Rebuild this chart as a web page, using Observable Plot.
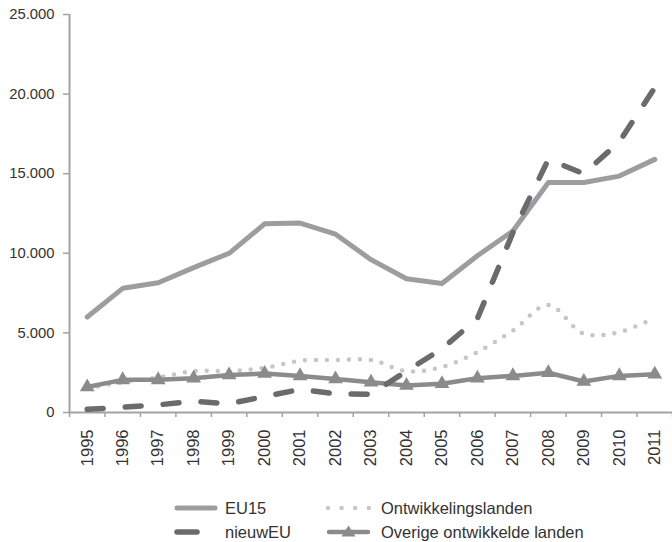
<!DOCTYPE html>
<html>
<head>
<meta charset="utf-8">
<script src="https://cdn.jsdelivr.net/npm/d3@7"></script>
<script src="https://cdn.jsdelivr.net/npm/@observablehq/plot@0.6"></script>
<style>
  html, body { margin: 0; padding: 0; background: #fff; }
  body { width: 672px; height: 542px; position: relative; overflow: hidden; font-family: "Liberation Sans", Arial, sans-serif; }
  #chart { position: absolute; left: 0; top: 0; }
  .leg { position: absolute; font-size: 16.5px; color: #333; line-height: 20px; white-space: nowrap; }
  .sw { position: absolute; }
</style>
</head>
<body>
<div id="chart"></div>
<svg class="sw" style="left:170px;top:498px" width="52" height="20"><line x1="7" y1="10" x2="45" y2="10" stroke="#9d9d9f" stroke-width="5" stroke-linecap="round"/></svg>
<div class="leg" style="left:225px;top:498px">EU15</div>
<svg class="sw" style="left:170px;top:522px" width="52" height="20"><line x1="7" y1="10" x2="27" y2="10" stroke="#6b6b6d" stroke-width="5.5" stroke-linecap="round"/></svg>
<div class="leg" style="left:225px;top:522px">nieuwEU</div>
<svg class="sw" style="left:320px;top:498px" width="56" height="20"><line x1="8" y1="10" x2="49" y2="10" stroke="#c8c8c8" stroke-width="4.5" stroke-linecap="round" stroke-dasharray="0,13.6"/></svg>
<div class="leg" style="left:381px;top:498px">Ontwikkelingslanden</div>
<svg class="sw" style="left:320px;top:522px" width="56" height="20"><line x1="9" y1="10" x2="48" y2="10" stroke="#8b8b8d" stroke-width="4.5" stroke-linecap="round"/><path d="M28.5,3.5 L35.5,14.5 L21.5,14.5 Z" fill="#8b8b8d"/></svg>
<div class="leg" style="left:381px;top:522px">Overige ontwikkelde landen</div>
<script>
const years = [1995, 1996, 1997, 1998, 1999, 2000, 2001, 2002, 2003, 2004, 2005, 2006, 2007, 2008, 2009, 2010, 2011];
const eu15 = [6000, 7800, 8150, 9100, 10000, 11850, 11900, 11200, 9600, 8400, 8100, 9850, 11400, 14450, 14450, 14850, 15900];
const nieuwEU = [200, 330, 480, 700, 550, 1000, 1450, 1170, 1150, 2600, 4000, 5900, 11300, 15900, 15000, 17000, 20400];
const ontwikkelingslanden = [1500, 1900, 2200, 2600, 2600, 2800, 3250, 3300, 3300, 2600, 2850, 3800, 5150, 6750, 4950, 5050, 5950];
const overige = [1600, 2050, 2050, 2150, 2350, 2450, 2300, 2100, 1900, 1700, 1800, 2150, 2300, 2500, 1950, 2300, 2400];
const yTicks = [0, 5000, 10000, 15000, 20000, 25000];

const rows = (vals) => years.map((year, i) => ({year, value: vals[i]}));
const boundaries = [...years.map(y => y - 0.5), years[years.length - 1] + 0.5];
const nl = d3.formatLocale({decimal: ",", thousands: ".", grouping: [3], currency: ["€", ""]});
const fmt = nl.format(",");
const axisColor = "#a3a3a3";
const textColor = "#333333";

const chart = Plot.plot({
  width: 672,
  height: 480,
  marginLeft: 69,
  marginRight: 0,
  marginTop: 14,
  marginBottom: 68,
  style: {fontFamily: "'Liberation Sans', Arial, sans-serif", background: "white", overflow: "visible"},
  x: {type: "linear", domain: [years[0] - 0.5, years[years.length - 1] + 0.5]},
  y: {domain: [0, 25000]},
  marks: [
    Plot.axisY({ticks: yTicks, tickFormat: fmt, tickSize: 6, tickPadding: 9, fontSize: 14.8, stroke: axisColor, fill: textColor, strokeWidth: 1.5, label: null}),
    Plot.axisX({ticks: boundaries, tickSize: 5, fill: "none", stroke: axisColor, strokeWidth: 1.5, label: null}),
    Plot.axisX({ticks: years, tickSize: 0, tickPadding: 17, tickRotate: -90, tickFormat: d => String(d), fontSize: 16.5, fill: textColor, label: null}),
    Plot.ruleX([years[0] - 0.5], {stroke: axisColor, strokeWidth: 2}),
    Plot.ruleY([0], {stroke: axisColor, strokeWidth: 2}),
    Plot.line(rows(eu15), {x: "year", y: "value", stroke: "#9d9d9f", strokeWidth: 5, strokeLinejoin: "round", strokeLinecap: "round"}),
    Plot.line(rows(ontwikkelingslanden), {x: "year", y: "value", curve: "catmull-rom", stroke: "#c6c6c6", strokeWidth: 4.5, strokeLinecap: "round", strokeDasharray: "0,11"}),
    Plot.line(rows(overige), {x: "year", y: "value", stroke: "#8b8b8d", strokeWidth: 4.5, strokeLinejoin: "round"}),
    Plot.dot(rows(overige), {x: "year", y: "value", symbol: "triangle", r: 5.5, fill: "#8b8b8d", stroke: "none"}),
    Plot.line(rows(nieuwEU), {x: "year", y: "value", stroke: "#6b6b6d", strokeWidth: 5.5, strokeLinecap: "round", strokeLinejoin: "round", strokeDasharray: "16,22"})
  ]
});
document.getElementById("chart").appendChild(chart);
</script>
</body>
</html>
